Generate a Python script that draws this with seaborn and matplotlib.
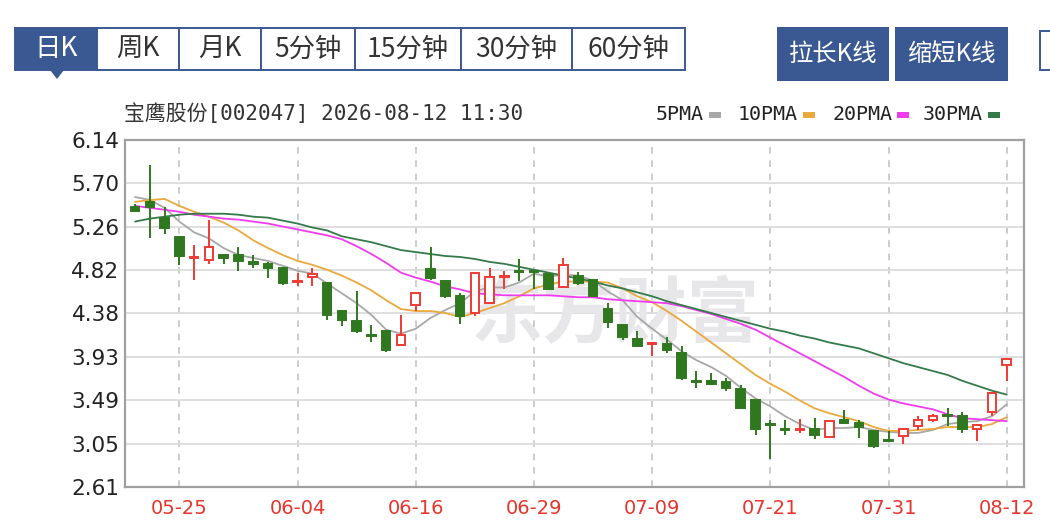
import matplotlib
matplotlib.use("Agg")
import numpy as np
import pandas as pd
import seaborn as sns
from matplotlib import pyplot as plt
from matplotlib.patches import Rectangle, Polygon

# trading days on screen
dates = ["05-20", "05-21", "05-22", "05-25", "05-26", "05-27", "05-28", "05-29",
         "06-01", "06-02", "06-03", "06-04", "06-05", "06-08", "06-09", "06-10",
         "06-11", "06-12", "06-15", "06-16", "06-17", "06-18", "06-22", "06-23",
         "06-24", "06-25", "06-26", "06-29", "06-30", "07-01", "07-02", "07-03",
         "07-06", "07-07", "07-08", "07-09", "07-10", "07-13", "07-14", "07-15",
         "07-16", "07-17", "07-20", "07-21", "07-22", "07-23", "07-24", "07-27",
         "07-28", "07-29", "07-30", "07-31", "08-03", "08-04", "08-05", "08-06",
         "08-07", "08-10", "08-11", "08-12"]
xtick_labels = ["05-25", "06-04", "06-16", "06-29", "07-09", "07-21", "07-31", "08-12"]
ytick_vals = [2.61, 3.05, 3.49, 3.93, 4.38, 4.82, 5.26, 5.70, 6.14]
ytick_labels = ["2.61", "3.05", "3.49", "3.93", "4.38", "4.82", "5.26", "5.70", "6.14"]

opens = [5.46, 5.51, 5.35, 5.15, 4.94, 4.92, 4.97, 4.97, 4.90, 4.88,
         4.84, 4.70, 4.75, 4.69, 4.40, 4.30, 4.16, 4.20, 4.05, 4.46,
         4.83, 4.71, 4.55, 4.38, 4.48, 4.75, 4.81, 4.81, 4.78, 4.64,
         4.76, 4.72, 4.42, 4.26, 4.12, 4.06, 4.06, 3.97, 3.69, 3.69,
         3.68, 3.61, 3.49, 3.25, 3.20, 3.19, 3.20, 3.12, 3.29, 3.26,
         3.18, 3.09, 3.13, 3.23, 3.29, 3.34, 3.33, 3.20, 3.37, 3.85]
highs = [5.49, 5.89, 5.46, 5.16, 5.07, 5.33, 4.98, 5.05, 4.97, 4.90,
         4.85, 4.79, 4.84, 4.70, 4.41, 4.60, 4.26, 4.21, 4.36, 4.59,
         5.05, 4.72, 4.58, 4.79, 4.84, 4.81, 4.93, 4.81, 4.79, 4.94,
         4.80, 4.73, 4.48, 4.27, 4.20, 4.09, 4.14, 4.04, 3.79, 3.77,
         3.72, 3.65, 3.49, 3.29, 3.29, 3.30, 3.31, 3.28, 3.39, 3.29,
         3.19, 3.18, 3.21, 3.33, 3.35, 3.41, 3.37, 3.25, 3.57, 3.91]
lows = [5.41, 5.14, 5.18, 4.87, 4.72, 4.88, 4.88, 4.81, 4.84, 4.74,
        4.67, 4.65, 4.65, 4.31, 4.25, 4.18, 4.09, 3.98, 4.04, 4.40,
        4.72, 4.53, 4.27, 4.35, 4.48, 4.62, 4.71, 4.62, 4.61, 4.63,
        4.67, 4.54, 4.23, 4.11, 4.03, 3.94, 3.97, 3.70, 3.62, 3.65,
        3.59, 3.40, 3.14, 2.89, 3.14, 3.16, 3.10, 3.12, 3.26, 3.11,
        3.01, 3.08, 3.05, 3.19, 3.27, 3.23, 3.16, 3.08, 3.33, 3.69]
closes = [5.42, 5.46, 5.24, 4.96, 4.95, 5.05, 4.94, 4.91, 4.88, 4.84,
          4.69, 4.71, 4.78, 4.36, 4.31, 4.20, 4.15, 4.00, 4.16, 4.58,
          4.74, 4.55, 4.35, 4.79, 4.75, 4.76, 4.80, 4.80, 4.62, 4.87,
          4.69, 4.55, 4.29, 4.14, 4.04, 4.07, 4.00, 3.72, 3.68, 3.66,
          3.62, 3.41, 3.20, 3.24, 3.19, 3.20, 3.14, 3.28, 3.26, 3.22,
          3.03, 3.08, 3.20, 3.29, 3.33, 3.33, 3.20, 3.24, 3.57, 3.91]

ma5 = [5.56, 5.53, 5.45, 5.31, 5.20, 5.14, 5.04, 4.97, 4.94, 4.91,
       4.86, 4.81, 4.78, 4.68, 4.58, 4.48, 4.36, 4.21, 4.17, 4.22,
       4.33, 4.41, 4.48, 4.60, 4.64, 4.64, 4.69, 4.78, 4.75, 4.77,
       4.76, 4.71, 4.60, 4.51, 4.34, 4.22, 4.11, 3.99, 3.90, 3.83,
       3.74, 3.62, 3.51, 3.43, 3.33, 3.25, 3.19, 3.21, 3.21, 3.22,
       3.19, 3.17, 3.16, 3.16, 3.19, 3.25, 3.27, 3.28, 3.33, 3.45]
ma10 = [5.51, 5.53, 5.54, 5.47, 5.41, 5.36, 5.30, 5.22, 5.12, 5.04,
        4.97, 4.91, 4.87, 4.82, 4.76, 4.69, 4.61, 4.51, 4.42, 4.40,
        4.40, 4.38, 4.34, 4.38, 4.43, 4.48, 4.55, 4.63, 4.67, 4.70,
        4.70, 4.70, 4.69, 4.63, 4.55, 4.49, 4.40, 4.30, 4.19, 4.08,
        3.97, 3.86, 3.75, 3.66, 3.58, 3.49, 3.41, 3.36, 3.32, 3.28,
        3.22, 3.18, 3.18, 3.19, 3.20, 3.22, 3.22, 3.22, 3.25, 3.32]
ma20 = [5.47, 5.45, 5.43, 5.41, 5.38, 5.36, 5.34, 5.33, 5.31, 5.29,
        5.26, 5.23, 5.20, 5.17, 5.13, 5.06, 4.98, 4.89, 4.79, 4.74,
        4.70, 4.65, 4.62, 4.58, 4.57, 4.56, 4.56, 4.56, 4.56, 4.55,
        4.54, 4.54, 4.52, 4.51, 4.50, 4.49, 4.48, 4.45, 4.41, 4.37,
        4.32, 4.27, 4.21, 4.13, 4.05, 3.97, 3.89, 3.81, 3.73, 3.64,
        3.56, 3.50, 3.46, 3.43, 3.40, 3.35, 3.31, 3.30, 3.29, 3.28]
ma30 = [5.31, 5.34, 5.36, 5.38, 5.39, 5.39, 5.39, 5.38, 5.36, 5.35,
        5.32, 5.29, 5.25, 5.22, 5.16, 5.13, 5.10, 5.06, 5.02, 5.00,
        4.98, 4.96, 4.95, 4.93, 4.90, 4.88, 4.85, 4.82, 4.79, 4.76,
        4.73, 4.70, 4.66, 4.63, 4.59, 4.55, 4.50, 4.46, 4.42, 4.38,
        4.34, 4.30, 4.26, 4.22, 4.19, 4.15, 4.12, 4.08, 4.05, 4.02,
        3.97, 3.92, 3.87, 3.83, 3.79, 3.75, 3.69, 3.64, 3.59, 3.55]

ma_names = ["5PMA", "10PMA", "20PMA", "30PMA"]
ma_colors = {"5PMA": "#a8a8a8", "10PMA": "#e9a93c", "20PMA": "#ef3cef", "30PMA": "#347a4a"}
up_color = "#ee3b33"
down_color = "#30781f"
blue = "#3a5891"

W, H = 1050, 526

sns.set_theme(style="white")
plt.rcParams["font.family"] = ["DejaVu Sans", "Noto Sans CJK SC"]

fig = plt.figure(figsize=(W / 100, H / 100), dpi=100)
ax = fig.add_axes([125 / W, 1 - 487 / H, (1024 - 125) / W, (487 - 140) / H])

idx = np.arange(len(dates))
df = pd.DataFrame({"idx": idx, "open": opens, "high": highs, "low": lows, "close": closes})
rising = df["close"] >= df["open"]

# moving averages
ma_df = pd.DataFrame({"idx": idx, "5PMA": ma5, "10PMA": ma10, "20PMA": ma20, "30PMA": ma30})
ma_long = ma_df.melt(id_vars="idx", var_name="ma", value_name="price")
sns.lineplot(data=ma_long, x="idx", y="price", hue="ma", hue_order=ma_names,
             palette=ma_colors, linewidth=1.3, legend=False, ax=ax, zorder=3)

# candles: wicks then bodies
wick_colors = np.where(rising, up_color, down_color)
ax.vlines(df["idx"], df["low"], df["high"], colors=wick_colors, linewidth=1.4, zorder=4)
body_bottom = df[["open", "close"]].min(axis=1)
body_height = (df["close"] - df["open"]).abs().clip(lower=0.006)
ax.bar(df["idx"], body_height, bottom=body_bottom, width=0.58,
       color=np.where(rising, "white", down_color),
       edgecolor=wick_colors, linewidth=1.4, zorder=5)

# watermark
ax.text(615 / W, 1 - 316 / H, "东方财富", transform=fig.transFigure, ha="center", va="center",
        fontsize=52, fontweight="bold", color="#e7e7ea", family=["Noto Sans CJK SC"], zorder=1)

ax.set_xlim(-0.68, 60.17)
ax.set_ylim(2.61, 6.14)
ax.set_xticks([dates.index(d) for d in xtick_labels])
ax.set_xticklabels(xtick_labels)
ax.set_yticks(ytick_vals)
ax.set_yticklabels(ytick_labels)
ax.set_xlabel("")
ax.set_ylabel("")
ax.tick_params(axis="x", length=0, pad=9, labelsize=14, labelcolor="#e8342c")
ax.tick_params(axis="y", length=0, pad=4, labelsize=15.5, labelcolor="#222222")
ax.grid(axis="y", color="#dcdcdc", linewidth=1.3, linestyle="-")
ax.grid(axis="x", color="#c4c4c4", linewidth=1.2, linestyle=(0, (4, 4)))
ax.set_axisbelow(True)
for s in ax.spines.values():
    s.set_color("#a0a0a0")
    s.set_linewidth(1.6)


def fx(x):
    return x / W


def fy(y):
    return 1 - y / H


# period tabs
tab_labels = ["日K", "周K", "月K", "5分钟", "15分钟", "30分钟", "60分钟"]
tab_edges = [15, 97, 179, 261, 355, 461, 572, 685]
for i, lab in enumerate(tab_labels):
    x0, x1 = tab_edges[i], tab_edges[i + 1]
    sel = i == 0
    fig.patches.append(Rectangle((fx(x0), fy(70)), (x1 - x0) / W, 42 / H, transform=fig.transFigure,
                                 facecolor=blue if sel else "white", edgecolor=blue, linewidth=1.4))
    fig.text(fx((x0 + x1) / 2), fy(49), lab, ha="center", va="center", fontsize=19,
             color="white" if sel else "#333333", family=["Noto Sans CJK SC"])
fig.patches.append(Polygon([(fx(50), fy(70)), (fx(64), fy(70)), (fx(57), fy(79))],
                           closed=True, transform=fig.transFigure, facecolor=blue, edgecolor="none"))

# right buttons
for x0, x1, lab in [(777, 889, "拉长K线"), (895, 1008, "缩短K线")]:
    fig.patches.append(Rectangle((fx(x0), fy(81)), (x1 - x0) / W, 54 / H, transform=fig.transFigure,
                                 facecolor=blue, edgecolor="none"))
    fig.text(fx((x0 + x1) / 2), fy(54), lab, ha="center", va="center", fontsize=17.5,
             color="white", family=["Noto Sans CJK SC"])
fig.patches.append(Rectangle((fx(1040), fy(70)), 30 / W, 39 / H, transform=fig.transFigure,
                             facecolor="white", edgecolor=blue, linewidth=1.4))

# title and MA legend
fig.text(fx(124), fy(114), "宝鹰股份[002047] 2026-08-12 11:30", ha="left", va="center",
         fontsize=15, color="#333333", family=["DejaVu Sans Mono", "Noto Sans CJK SC"])
legend_x = [656, 738, 832, 923]
for name, lx in zip(ma_names, legend_x):
    fig.text(fx(lx), fy(115), name, ha="left", va="center", fontsize=14.4,
             color="#222222", family=["DejaVu Sans Mono"])
    sx = lx + len(name) * 12 + 5
    fig.patches.append(Rectangle((fx(sx), fy(117.5)), 12 / W, 5.5 / H, transform=fig.transFigure,
                                 facecolor=ma_colors[name], edgecolor="none"))

fig.savefig("out.png", dpi=100)
